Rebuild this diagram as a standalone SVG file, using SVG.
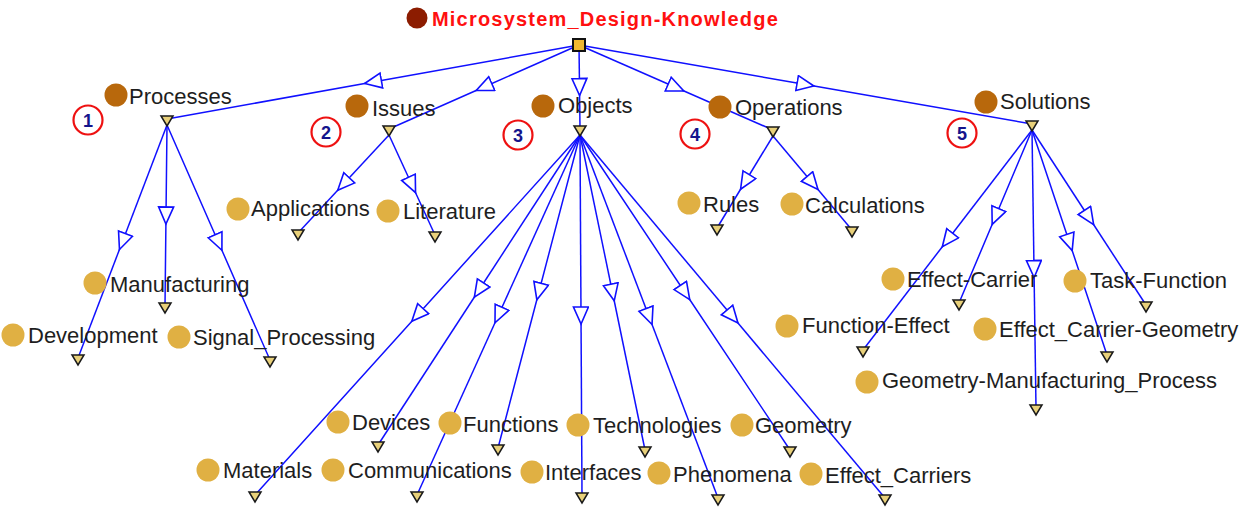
<svg xmlns="http://www.w3.org/2000/svg" width="1239" height="507" viewBox="0 0 1239 507">
<style>
text{font-family:"Liberation Sans",Arial,sans-serif;font-size:22px;fill:#1e1e1e}
.title{font-weight:bold;font-size:20px;fill:#ff1010;letter-spacing:1.2px}
.e{fill:none;stroke:#1010ff;stroke-width:1.5;marker-mid:url(#arr)}
.tri{fill:#e8d07a;stroke:#1a1a1a;stroke-width:1.5}
.c2{fill:#e0b043}
.c1{fill:#b8680c}
.num circle{fill:#fff;stroke:#ee1111;stroke-width:2.2}
.num text{font-size:18px;font-weight:bold;fill:#14148c;text-anchor:middle}
</style>
<defs>
<marker id="arr" markerUnits="userSpaceOnUse" markerWidth="22" markerHeight="18" refX="9.5" refY="8.5" orient="auto" viewBox="0 0 22 18">
<path d="M1,1 L18,8.5 L1,16 Z" fill="#fff" stroke="#1010ff" stroke-width="1.6"/>
</marker>
</defs>
<rect width="1239" height="507" fill="#fff"/>
<g id="connectors">
<polyline class="e" points="579,45 373,82 167,119"/>
<polyline class="e" points="579,45 484,87 389,129"/>
<polyline class="e" points="579,45 579.5,87 580,129"/>
<polyline class="e" points="579,45 676,87.5 773,130"/>
<polyline class="e" points="579,45 805.5,84.5 1032,124"/>
<polyline class="e" points="167,125 166,215.5 165,306"/>
<polyline class="e" points="167,125 122.5,241.5 78,358"/>
<polyline class="e" points="167,125 218.5,242.5 270,360"/>
<polyline class="e" points="389,135 343.5,184 298,233"/>
<polyline class="e" points="389,135 412,185 435,235"/>
<polyline class="e" points="580,135 479,290 378,445"/>
<polyline class="e" points="580,135 539,291.5 498,448"/>
<polyline class="e" points="580,135 612.5,292.5 645,450"/>
<polyline class="e" points="580,135 685,292.5 790,450"/>
<polyline class="e" points="580,135 417.5,315 255,495"/>
<polyline class="e" points="580,135 498.5,315 417,495"/>
<polyline class="e" points="580,135 581,315.5 582,496"/>
<polyline class="e" points="580,135 649,316.5 718,498"/>
<polyline class="e" points="580,135 732.5,316.5 885,498"/>
<polyline class="e" points="773,136 745,182 717,228"/>
<polyline class="e" points="773,136 812.5,183 852,230"/>
<polyline class="e" points="1032,130 995.5,216.5 959,303"/>
<polyline class="e" points="1032,130 1089,217.5 1146,305"/>
<polyline class="e" points="1032,130 947.5,240 863,350"/>
<polyline class="e" points="1032,130 1069.5,242.5 1107,355"/>
<polyline class="e" points="1032,130 1034,269 1036,408"/>
</g>
<g id="root">
<circle cx="417" cy="18" r="10.5" fill="#8c1c00"/>
<text class="title" x="432" y="26">Microsystem_Design-Knowledge</text>
<rect x="573" y="39" width="12" height="12" fill="#f0b830" stroke="#111" stroke-width="2"/>
</g>
<g id="processes">
<circle class="c1" cx="116" cy="95" r="11.5"/>
<text x="129" y="104">Processes</text>
<polygon class="tri" points="161,116 173,116 167,126"/>
</g>
<g id="issues">
<circle class="c1" cx="357" cy="106" r="11.5"/>
<text x="372" y="116">Issues</text>
<polygon class="tri" points="383,126 395,126 389,136"/>
</g>
<g id="objects">
<circle class="c1" cx="543" cy="106" r="11.5"/>
<text x="558" y="113">Objects</text>
<polygon class="tri" points="574,126 586,126 580,136"/>
</g>
<g id="operations">
<circle class="c1" cx="720" cy="107" r="11.5"/>
<text x="735" y="115">Operations</text>
<polygon class="tri" points="767,127 779,127 773,137"/>
</g>
<g id="solutions">
<circle class="c1" cx="986" cy="102" r="11.5"/>
<text x="1000" y="109">Solutions</text>
<polygon class="tri" points="1026,121 1038,121 1032,131"/>
</g>
<g id="num1" class="num"><circle cx="88" cy="120" r="14.5"/><text x="88" y="126.5">1</text></g>
<g id="num2" class="num"><circle cx="326" cy="132" r="14.5"/><text x="326" y="138.5">2</text></g>
<g id="num3" class="num"><circle cx="518" cy="135" r="14.5"/><text x="518" y="141.5">3</text></g>
<g id="num4" class="num"><circle cx="695" cy="134" r="14.5"/><text x="695" y="140.5">4</text></g>
<g id="num5" class="num"><circle cx="962" cy="133" r="14.5"/><text x="962" y="139.5">5</text></g>
<g id="manufacturing">
<circle class="c2" cx="95" cy="283" r="11.5"/>
<text x="110" y="292">Manufacturing</text>
<polygon class="tri" points="159,303 171,303 165,313"/>
</g>
<g id="development">
<circle class="c2" cx="13" cy="335" r="11.5"/>
<text x="28" y="343">Development</text>
<polygon class="tri" points="72,355 84,355 78,365"/>
</g>
<g id="signal_processing">
<circle class="c2" cx="179" cy="337" r="11.5"/>
<text x="193" y="345">Signal_Processing</text>
<polygon class="tri" points="264,357 276,357 270,367"/>
</g>
<g id="applications">
<circle class="c2" cx="238" cy="209" r="11.5"/>
<text x="251" y="216">Applications</text>
<polygon class="tri" points="292,230 304,230 298,240"/>
</g>
<g id="literature">
<circle class="c2" cx="388" cy="211" r="11.5"/>
<text x="403" y="219">Literature</text>
<polygon class="tri" points="429,232 441,232 435,242"/>
</g>
<g id="devices">
<circle class="c2" cx="338" cy="422" r="11.5"/>
<text x="352" y="430">Devices</text>
<polygon class="tri" points="372,442 384,442 378,452"/>
</g>
<g id="functions">
<circle class="c2" cx="450" cy="423" r="11.5"/>
<text x="463" y="432">Functions</text>
<polygon class="tri" points="492,445 504,445 498,455"/>
</g>
<g id="technologies">
<circle class="c2" cx="578" cy="425" r="11.5"/>
<text x="593" y="433">Technologies</text>
<polygon class="tri" points="639,447 651,447 645,457"/>
</g>
<g id="geometry">
<circle class="c2" cx="742" cy="425" r="11.5"/>
<text x="755" y="433">Geometry</text>
<polygon class="tri" points="784,447 796,447 790,457"/>
</g>
<g id="materials">
<circle class="c2" cx="208" cy="470" r="11.5"/>
<text x="223" y="478">Materials</text>
<polygon class="tri" points="249,492 261,492 255,502"/>
</g>
<g id="communications">
<circle class="c2" cx="333" cy="470" r="11.5"/>
<text x="348" y="478">Communications</text>
<polygon class="tri" points="411,492 423,492 417,502"/>
</g>
<g id="interfaces">
<circle class="c2" cx="532" cy="472" r="11.5"/>
<text x="545" y="480">Interfaces</text>
<polygon class="tri" points="576,493 588,493 582,503"/>
</g>
<g id="phenomena">
<circle class="c2" cx="659" cy="473" r="11.5"/>
<text x="673" y="482">Phenomena</text>
<polygon class="tri" points="712,495 724,495 718,505"/>
</g>
<g id="effect_carriers">
<circle class="c2" cx="811" cy="474" r="11.5"/>
<text x="825" y="483">Effect_Carriers</text>
<polygon class="tri" points="879,495 891,495 885,505"/>
</g>
<g id="rules">
<circle class="c2" cx="689" cy="203" r="11.5"/>
<text x="703" y="212">Rules</text>
<polygon class="tri" points="711,225 723,225 717,235"/>
</g>
<g id="calculations">
<circle class="c2" cx="792" cy="204" r="11.5"/>
<text x="805" y="213">Calculations</text>
<polygon class="tri" points="846,227 858,227 852,237"/>
</g>
<g id="effect-carrier">
<circle class="c2" cx="893" cy="279" r="11.5"/>
<text x="907" y="287">Effect-Carrier</text>
<polygon class="tri" points="953,300 965,300 959,310"/>
</g>
<g id="task-function">
<circle class="c2" cx="1075" cy="281" r="11.5"/>
<text x="1090" y="288">Task-Function</text>
<polygon class="tri" points="1140,302 1152,302 1146,312"/>
</g>
<g id="function-effect">
<circle class="c2" cx="787" cy="326" r="11.5"/>
<text x="802" y="333">Function-Effect</text>
<polygon class="tri" points="857,347 869,347 863,357"/>
</g>
<g id="effect_carrier-geometry">
<circle class="c2" cx="985" cy="329" r="11.5"/>
<text x="999" y="337">Effect_Carrier-Geometry</text>
<polygon class="tri" points="1101,352 1113,352 1107,362"/>
</g>
<g id="geometry-manufacturing_process">
<circle class="c2" cx="867" cy="382" r="11.5"/>
<text x="882" y="388">Geometry-Manufacturing_Process</text>
<polygon class="tri" points="1030,405 1042,405 1036,415"/>
</g>
</svg>
